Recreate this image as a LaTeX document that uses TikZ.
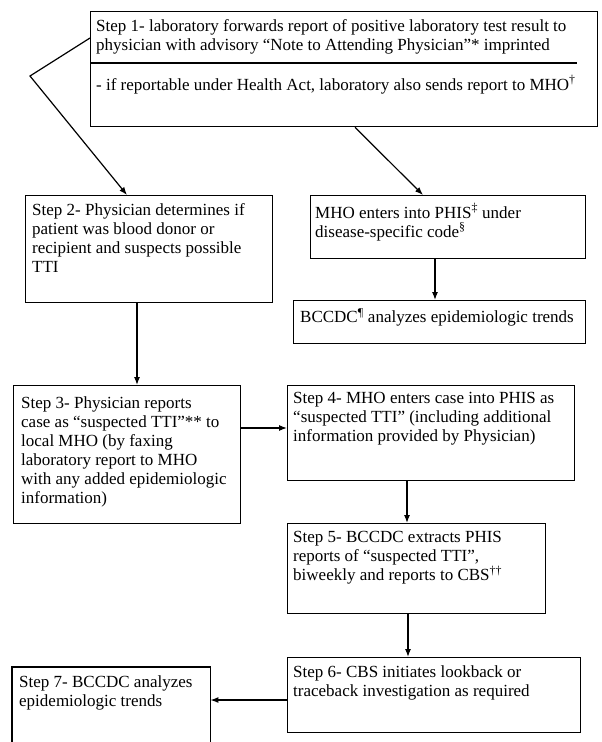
\documentclass[tikz,border=0pt]{standalone}
\usepackage{fontspec}
\setmainfont{Liberation Serif}
\usetikzlibrary{arrows.meta}
\tikzset{
  box/.style={draw, line width=1.3pt, inner sep=0pt, anchor=north west},
  txt/.style={font=\fontsize{17}{19}\selectfont, align=left, anchor=north west, inner sep=0pt},
  arr/.style={line width=1.2pt, -{Latex[length=8pt,width=6pt]}},
  plain/.style={line width=1.2pt}
}
\begin{document}
\begin{tikzpicture}[x=1pt,y=-1pt]
\useasboundingbox[fill=white] (0,0) rectangle (602,742);
% Step 1
\node[box, minimum width=507pt, minimum height=115pt] (b1) at (90,11) {};
\draw[plain] (b1.west |- 0,63) -- (577,63);
\node[txt] (t1) at (96,19.5) {Step 1- laboratory forwards report of positive laboratory test result to\\physician with advisory “Note to Attending Physician”* imprinted};
\node[txt, anchor=base west] (t1b) at (96,90) {- if reportable under Health Act, laboratory also sends report to MHO\textsuperscript{†}};
% Step 2
\node[box, minimum width=247pt, minimum height=107pt] (b2) at (25,195) {};
\node[txt] (t2) at (32,203.5) {Step 2- Physician determines if\\patient was blood donor or\\recipient and suspects possible\\TTI};
% MHO
\node[box, minimum width=275pt, minimum height=63pt] (bm) at (310,195) {};
\node[txt] (tm) at (315,203.5) {MHO enters into PHIS\textsuperscript{‡} under\\disease-specific code\textsuperscript{§}};
% BCCDC
\node[box, minimum width=292pt, minimum height=43pt] (bc) at (293,300) {};
\node[txt] (tc) at (300,308.5) {BCCDC\textsuperscript{¶} analyzes epidemiologic trends};
% Step 3
\node[box, minimum width=227pt, minimum height=138pt] (b3) at (13,385) {};
\node[txt] (t3) at (21,396) {Step 3- Physician reports\\case as “suspected TTI”** to\\local MHO (by faxing\\laboratory report to MHO\\with any added epidemiologic\\information)};
% Step 4
\node[box, minimum width=287pt, minimum height=95pt] (b4) at (287,385) {};
\node[txt] (t4) at (293,392) {Step 4- MHO enters case into PHIS as\\“suspected TTI” (including additional\\information provided by Physician)};
% Step 5
\node[box, minimum width=258pt, minimum height=90pt] (b5) at (287,523) {};
\node[txt] (t5) at (293,531.5) {Step 5- BCCDC extracts PHIS\\reports of “suspected TTI”,\\biweekly and reports to CBS\textsuperscript{††}};
% Step 6
\node[box, minimum width=293pt, minimum height=75pt] (b6) at (287,657) {};
\node[txt] (t6) at (293,665.5) {Step 6- CBS initiates lookback or\\traceback investigation as required};
% Step 7 (open at bottom)
\node[inner sep=0pt, anchor=north west, minimum width=198pt, minimum height=76pt] (b7) at (12,667) {};
\draw[line width=1.3pt] (b7.south west) -- (b7.north west) -- (b7.north east) -- (b7.south east);
\node[txt] (t7) at (19,675.5) {Step 7- BCCDC analyzes\\epidemiologic trends};
% connectors
\coordinate (apex) at (30,76);
\draw[arr] (b1.west |- 0,38) -- (apex) -- (b2.north -| 127,0);
\draw[arr] (b1.south -| 355,0) -- (bm.north -| 423,0);
\draw[arr] (b2.south -| 137,0) -- (b3.north -| 137,0);
\draw[arr] (bm.south -| 435,0) -- (bc.north -| 435,0);
\draw[arr] (b3.east |- 0,428) -- (b4.west |- 0,428);
\draw[arr] (b4.south -| 407,0) -- (b5.north -| 407,0);
\draw[arr] (b5.south -| 408,0) -- (b6.north -| 408,0);
\draw[arr] (b6.west |- 0,700) -- (b7.east |- 0,700);
\end{tikzpicture}
\end{document}
